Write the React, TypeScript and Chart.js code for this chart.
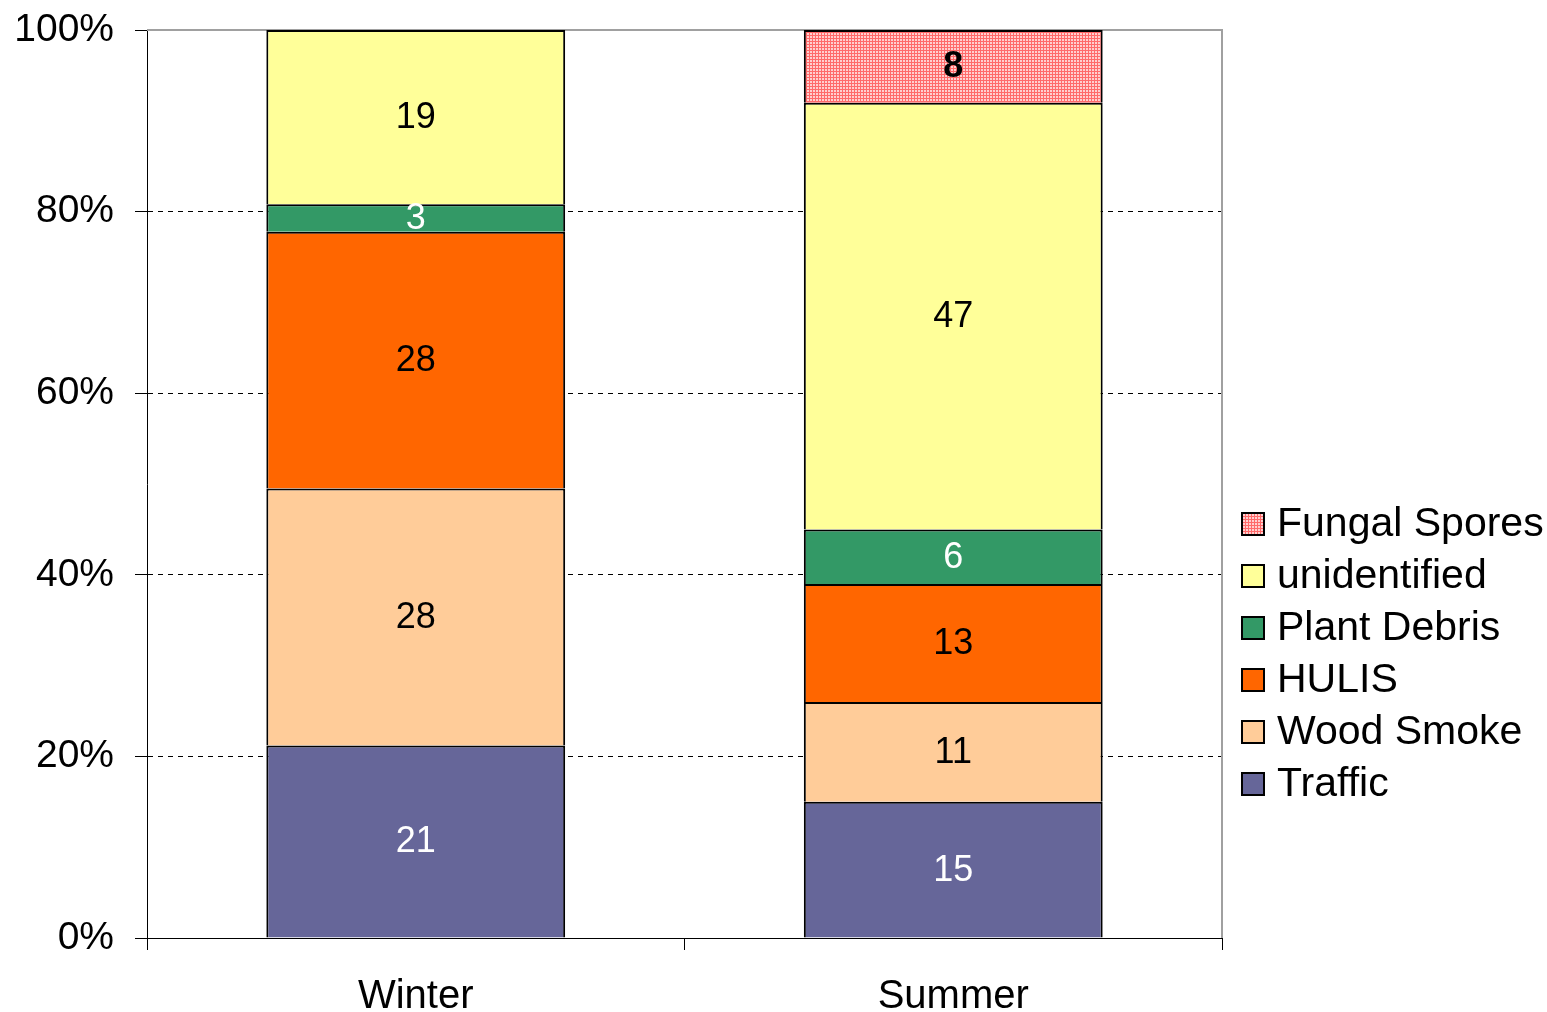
import React, { useEffect, useRef } from "react";
import { Chart, registerables } from "chart.js";

Chart.register(...registerables);

// Source contributions (percent of organic carbon) per season
const categories = ["Winter", "Summer"];
const seriesNames = ["Traffic", "Wood Smoke", "HULIS", "Plant Debris", "unidentified", "Fungal Spores"];
const traffic = [21, 15];
const woodSmoke = [28, 11];
const hulis = [28, 13];
const plantDebris = [3, 6];
const unidentified = [19, 47];
const fungalSpores = [0, 8];
const yTicks = [0, 20, 40, 60, 80, 100];

const seriesValues = [traffic, woodSmoke, hulis, plantDebris, unidentified, fungalSpores];
const seriesColors = ["#666699", "#FFCC99", "#FF6600", "#339966", "#FFFF99", "#FF6A6A"];
const labelColors = ["#FFFFFF", "#000000", "#000000", "#FFFFFF", "#000000", "#000000"];
const labelBold = [false, false, false, false, false, true];
const DOTTED = 5; // series drawn with a fine dot texture
const DOT_COLOR = "#FFCFCF";

const FONT = "'Liberation Sans', Arial, Helvetica, sans-serif";

// Light 2x2 squares on a 3px grid over the series colour
function dotFill(ctx: CanvasRenderingContext2D, x0: number, y0: number, x1: number, y1: number) {
  ctx.fillStyle = DOT_COLOR;
  for (let yy = Math.ceil(y0) + 1; yy < y1; yy += 3) {
    for (let xx = Math.ceil(x0) + 1; xx < x1; xx += 3) {
      ctx.fillRect(xx, yy, Math.min(2, x1 - xx), Math.min(2, y1 - yy));
    }
  }
}

export default function App() {
  const canvasRef = useRef<HTMLCanvasElement | null>(null);

  useEffect(() => {
    const canvas = canvasRef.current;
    if (!canvas) return;

    const totals = categories.map((_, ci) =>
      seriesValues.reduce((s, arr) => s + arr[ci], 0)
    );

    const datasets = seriesNames.map((name, i) => ({
      label: name,
      data: seriesValues[i].map((v, ci) => (v / totals[ci]) * 100),
      backgroundColor: seriesColors[i],
      borderColor: "#000000",
      borderWidth: 2,
      borderSkipped: "start" as const,
      barPercentage: 1,
      categoryPercentage: 0.556,
    }));

    // Gray frame on top and right of plot area
    const framePlugin = {
      id: "frame",
      beforeDatasetsDraw(chart: any) {
        const { ctx, chartArea } = chart;
        ctx.save();
        ctx.strokeStyle = "#A0A0A0";
        ctx.lineWidth = 2;
        ctx.beginPath();
        ctx.moveTo(chartArea.left, chartArea.top);
        ctx.lineTo(chartArea.right, chartArea.top);
        ctx.lineTo(chartArea.right, chartArea.bottom);
        ctx.stroke();
        ctx.restore();
      },
    };

    // Dot texture and value labels centered in each segment
    const valueLabels = {
      id: "valueLabels",
      afterDatasetsDraw(chart: any) {
        const { ctx } = chart;
        ctx.save();
        const dmeta = chart.getDatasetMeta(DOTTED);
        dmeta.data.forEach((bar: any, ci: number) => {
          if (!seriesValues[DOTTED][ci]) return;
          const p = bar.getProps(["x", "y", "base", "width"], true);
          dotFill(ctx, p.x - p.width / 2 + 2, Math.min(p.y, p.base) + 2, p.x + p.width / 2 - 2, Math.max(p.y, p.base) - 1);
        });
        ctx.textAlign = "center";
        ctx.textBaseline = "middle";
        seriesValues.forEach((vals, di) => {
          const meta = chart.getDatasetMeta(di);
          meta.data.forEach((bar: any, ci: number) => {
            const v = vals[ci];
            if (!v) return;
            ctx.font = `${labelBold[di] ? "bold " : ""}36px ${FONT}`;
            ctx.fillStyle = labelColors[di];
            ctx.fillText(String(v), bar.x, (bar.y + bar.base) / 2 + 1);
          });
        });
        ctx.restore();
      },
    };

    // Legend on the right, listed top-down in stack order
    const sideLegend = {
      id: "sideLegend",
      afterDraw(chart: any) {
        const { ctx } = chart;
        ctx.save();
        const x0 = 1241;
        const size = 24;
        const startY = 524;
        const step = 52;
        ctx.font = `41px ${FONT}`;
        ctx.textBaseline = "middle";
        ctx.textAlign = "left";
        for (let k = 0; k < seriesNames.length; k++) {
          const i = seriesNames.length - 1 - k;
          const cy = startY + k * step;
          ctx.fillStyle = seriesColors[i];
          ctx.fillRect(x0, cy - size / 2, size, size);
          if (i === DOTTED) dotFill(ctx, x0 + 1, cy - size / 2 + 1, x0 + size - 2, cy + size / 2 - 2);
          ctx.strokeStyle = "#000000";
          ctx.lineWidth = 2;
          ctx.strokeRect(x0 + 1, cy - size / 2 + 1, size - 2, size - 2);
          ctx.fillStyle = "#000000";
          ctx.fillText(seriesNames[i], 1277, cy + 1);
        }
        ctx.restore();
      },
    };

    const chart = new Chart(canvas, {
      type: "bar",
      data: { labels: categories, datasets },
      options: {
        animation: false,
        responsive: false,
        devicePixelRatio: 1,
        layout: { padding: { top: 30, right: 325, bottom: 0, left: 0 } },
        plugins: {
          legend: { display: false },
          tooltip: { enabled: false },
        },
        scales: {
          x: {
            stacked: true,
            offset: true,
            grid: {
              display: true,
              offset: true,
              drawOnChartArea: false,
              drawTicks: true,
              tickLength: 12,
              tickColor: "#000000",
              tickWidth: 1,
            },
            border: { display: true, color: "#000000", width: 1 },
            ticks: {
              color: "#000000",
              font: { family: FONT, size: 40 },
              padding: 23,
            },
            afterFit(scale: any) {
              scale.height = 74;
              scale.paddingLeft = 0;
              scale.paddingRight = 0;
            },
          },
          y: {
            stacked: true,
            min: 0,
            max: 100,
            afterBuildTicks(scale: any) {
              scale.ticks = yTicks.map((v) => ({ value: v }));
            },
            grid: {
              color: (ctx: any) =>
                ctx.tick && (ctx.tick.value === 0 || ctx.tick.value === 100)
                  ? "rgba(0,0,0,0)"
                  : "#000000",
              lineWidth: 1,
              drawTicks: true,
              tickLength: 12,
              tickColor: "#000000",
              tickWidth: 1,
            },
            border: { display: true, color: "#000000", width: 1, dash: [5, 5] },
            ticks: {
              color: "#000000",
              font: { family: FONT, size: 39 },
              padding: 21,
              callback: (v: any) => `${v}%`,
            },
            afterFit(scale: any) {
              scale.width = 147;
              scale.paddingTop = 0;
              scale.paddingBottom = 0;
            },
          },
        },
      },
      plugins: [framePlugin, valueLabels, sideLegend],
    });

    return () => chart.destroy();
  }, []);

  return (
    <div style={{ position: "absolute", left: 0, top: 0, width: 1547, height: 1012, background: "#FFFFFF" }}>
      <canvas ref={canvasRef} width={1547} height={1012} />
    </div>
  );
}
